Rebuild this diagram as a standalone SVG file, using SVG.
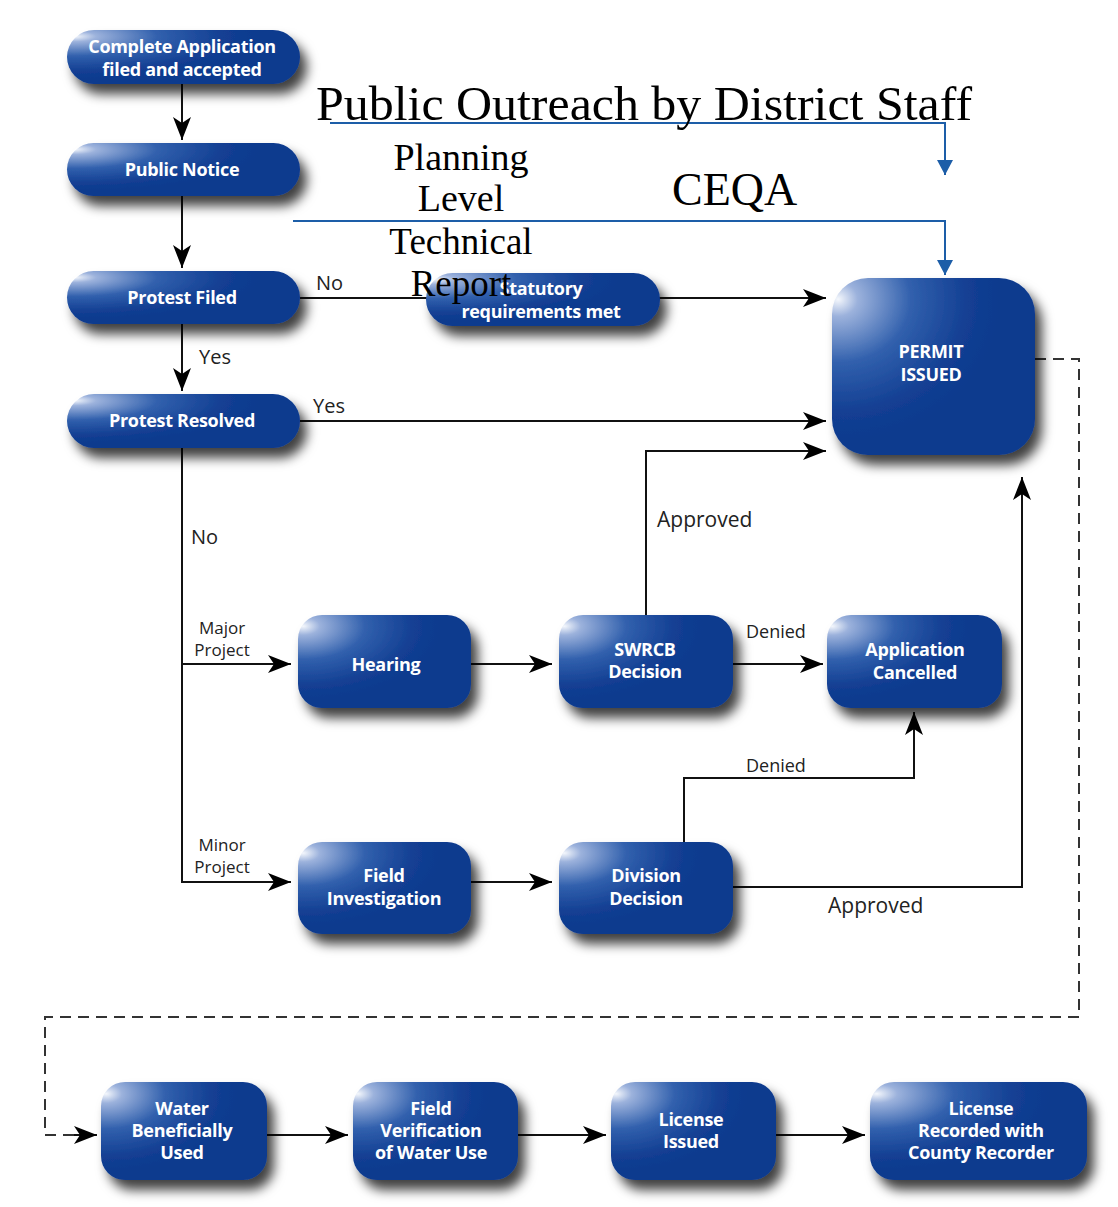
<svg xmlns="http://www.w3.org/2000/svg" width="1118" height="1207" viewBox="0 0 1118 1207">
<style>
.node rect{fill:url(#ng);filter:url(#sh)}
.nt{font-family:"Open Sans","Noto Sans",sans-serif;font-weight:700;font-size:18px;fill:#fff;text-anchor:middle;letter-spacing:-0.3px}
.lbl{font-family:"Open Sans","Noto Sans",sans-serif;fill:#222;font-size:20px}
.sm{font-size:17px}
.con{stroke:#111;stroke-width:2;fill:none;marker-end:url(#ah)}
.dash{stroke:#333;stroke-width:2;fill:none;stroke-dasharray:11 7}
.blue{stroke:#1d5ea8;stroke-width:2;fill:none;marker-end:url(#bh)}
.ser{font-family:"Liberation Serif","Times New Roman",serif;fill:#000}
</style>
<defs>
<radialGradient id="ng" cx="0.03" cy="0.12" r="0.8" fx="0.03" fy="0.12">
<stop offset="0" stop-color="#f4f7fc"/>
<stop offset="0.12" stop-color="#9cb2dc"/>
<stop offset="0.45" stop-color="#3160ad"/>
<stop offset="0.8" stop-color="#133f93"/>
<stop offset="1" stop-color="#0d3a8e"/>
</radialGradient>
<filter id="sh" x="-20%" y="-20%" width="150%" height="170%">
<feDropShadow dx="7" dy="10" stdDeviation="6" flood-color="#000" flood-opacity="0.75"/>
</filter>
<marker id="ah" markerUnits="userSpaceOnUse" markerWidth="24" markerHeight="20" refX="23" refY="10" orient="auto">
<path d="M0,1 L23,10 L0,19 L6,10 z" fill="#000"/>
</marker>
<marker id="bh" markerUnits="userSpaceOnUse" markerWidth="16" markerHeight="18" refX="15" refY="8" orient="auto">
<path d="M0,0 L15,8 L0,16 z" fill="#1d5ea8"/>
</marker>
</defs>
<rect width="1118" height="1207" fill="#fff"/>
<g id="connectors">
<path class="con" d="M182,84 V140"/>
<path class="con" d="M182,196 V268"/>
<path class="con" d="M182,324 V391"/>
<path class="con" d="M300,298 H826"/>
<path class="con" d="M300,421 H826"/>
<path class="con" d="M182,448 V664 H291"/>
<path class="con" d="M182,664 V882 H291"/>
<path class="con" d="M471,664 H552"/>
<path class="con" d="M646,615 V451 H826"/>
<path class="con" d="M733,664 H823"/>
<path class="con" d="M471,882 H552"/>
<path class="con" d="M684,842 V778 H914 V712"/>
<path class="con" d="M733,887 H1022 V477"/>
<path class="dash" d="M1035,359 H1079 V1017 H45 V1135 H76"/>
<path class="con" d="M74,1135 H97"/>
<path class="con" d="M267,1135 H348"/>
<path class="con" d="M518,1135 H606"/>
<path class="con" d="M776,1135 H865"/>
<text class="lbl" x="316" y="290">No</text>
<text class="lbl" x="199" y="364">Yes</text>
<text class="lbl" x="313" y="413">Yes</text>
<text class="lbl" x="191" y="544">No</text>
<text class="lbl sm" x="222" y="634" text-anchor="middle">Major</text>
<text class="lbl sm" x="222" y="656" text-anchor="middle">Project</text>
<text class="lbl sm" x="222" y="851" text-anchor="middle">Minor</text>
<text class="lbl sm" x="222" y="873" text-anchor="middle">Project</text>
<text class="lbl" x="657" y="527" style="font-size:21px">Approved</text>
<text class="lbl sm" x="746" y="638" style="font-size:18px">Denied</text>
<text class="lbl sm" x="746" y="772" style="font-size:18px">Denied</text>
<text class="lbl" x="828" y="913" style="font-size:21px">Approved</text>
</g>
<g id="n-complete" class="node"><rect x="67" y="30" width="233" height="54" rx="27"/><text class="nt" x="182" y="53">Complete Application</text><text class="nt" x="182" y="76">filed and accepted</text></g>
<g id="n-notice" class="node"><rect x="67" y="143" width="233" height="53" rx="26.5"/><text class="nt" x="182" y="176">Public Notice</text></g>
<g id="n-filed" class="node"><rect x="67" y="271" width="233" height="53" rx="26.5"/><text class="nt" x="182" y="304">Protest Filed</text></g>
<g id="n-resolved" class="node"><rect x="67" y="394" width="233" height="54" rx="27"/><text class="nt" x="182" y="427">Protest Resolved</text></g>
<g id="n-statutory" class="node"><rect x="426" y="273" width="234" height="53" rx="26.5"/><text class="nt" x="541" y="295">Statutory</text><text class="nt" x="541" y="318">requirements met</text></g>
<g id="n-permit" class="node"><rect x="832" y="278" width="203" height="177" rx="36"/><text class="nt" x="931" y="358">PERMIT</text><text class="nt" x="931" y="381">ISSUED</text></g>
<g id="n-hearing" class="node"><rect x="298" y="615" width="173" height="93" rx="24"/><text class="nt" x="386" y="671">Hearing</text></g>
<g id="n-swrcb" class="node"><rect x="559" y="615" width="174" height="93" rx="24"/><text class="nt" x="645" y="656">SWRCB</text><text class="nt" x="645" y="678">Decision</text></g>
<g id="n-cancelled" class="node"><rect x="827" y="615" width="175" height="93" rx="24"/><text class="nt" x="915" y="656">Application</text><text class="nt" x="915" y="679">Cancelled</text></g>
<g id="n-field" class="node"><rect x="298" y="842" width="173" height="92" rx="24"/><text class="nt" x="384" y="882">Field</text><text class="nt" x="384" y="905">Investigation</text></g>
<g id="n-division" class="node"><rect x="559" y="842" width="174" height="92" rx="24"/><text class="nt" x="646" y="882">Division</text><text class="nt" x="646" y="905">Decision</text></g>
<g id="n-water" class="node"><rect x="101" y="1082" width="166" height="98" rx="24"/><text class="nt" x="182" y="1115">Water</text><text class="nt" x="182" y="1137">Beneficially</text><text class="nt" x="182" y="1159">Used</text></g>
<g id="n-verify" class="node"><rect x="353" y="1082" width="165" height="98" rx="24"/><text class="nt" x="431" y="1115">Field</text><text class="nt" x="431" y="1137">Verification</text><text class="nt" x="431" y="1159">of Water Use</text></g>
<g id="n-license" class="node"><rect x="611" y="1082" width="165" height="98" rx="24"/><text class="nt" x="691" y="1126">License</text><text class="nt" x="691" y="1148">Issued</text></g>
<g id="n-recorded" class="node"><rect x="870" y="1082" width="217" height="98" rx="24"/><text class="nt" x="981" y="1115">License</text><text class="nt" x="981" y="1137">Recorded with</text><text class="nt" x="981" y="1159">County Recorder</text></g>
<g id="overlay">
<path class="blue" d="M330,123 H945 V175"/>
<path class="blue" d="M293,221 H945 V275"/>
<text class="ser" x="316" y="120" textLength="656" lengthAdjust="spacingAndGlyphs" style="font-size:48px">Public Outreach by District Staff</text>
<text class="ser" x="461" y="170" text-anchor="middle" style="font-size:38px">Planning</text>
<text class="ser" x="461" y="211" text-anchor="middle" style="font-size:38px">Level</text>
<text class="ser" x="461" y="254" text-anchor="middle" style="font-size:37px">Technical</text>
<text class="ser" x="461" y="296" text-anchor="middle" style="font-size:37px">Report</text>
<text class="ser" x="672" y="205" style="font-size:46px">CEQA</text>
</g>
</svg>
